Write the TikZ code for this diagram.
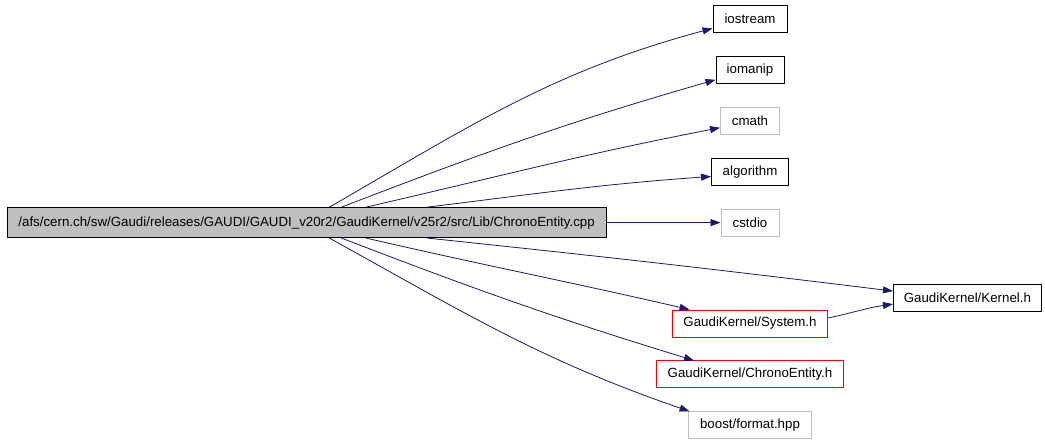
\documentclass[tikz,border=0pt]{standalone}
\usepackage{fontspec}
\setmainfont{Liberation Sans}
\usepackage{tikz}
\usetikzlibrary{arrows.meta, positioning, calc}
\definecolor{edgeblue}{RGB}{25,25,112}
\definecolor{lightgrey}{RGB}{191,191,191}

\begin{document}
\begin{tikzpicture}[
  x=1pt, y=-1pt,
  node distance=23pt,
  file/.style={rectangle, draw=black, line width=0.9pt, fill=white, inner sep=0pt,
               minimum height=27pt, font=\fontsize{13.3}{15}\selectfont},
  redfile/.style={file, draw=red},
  greyfile/.style={file, draw=lightgrey},
  srcfile/.style={file, fill=lightgrey, minimum height=30pt},
  arr/.style={-{Triangle[length=10pt, width=7pt]}, draw=edgeblue, line width=0.8pt}
]
\useasboundingbox (0,0) rectangle (1045,442);

% include column
\node[file, minimum width=74pt] (iostream) at (750,19) {iostream};
\node[file, minimum width=68pt, below=of iostream] (iomanip) {iomanip};
\node[greyfile, minimum width=59pt, below=of iomanip] (cmath) {cmath};
\node[file, minimum width=77pt, below=of cmath] (algorithm) {algorithm};
\node[greyfile, minimum width=58pt, below=of algorithm] (cstdio) {cstdio};
\node[redfile, minimum width=155pt, below=73pt of cstdio] (system) {GaudiKernel/System.h};
\node[redfile, minimum width=187pt, below=of system] (chrono) {GaudiKernel/ChronoEntity.h};
\node[greyfile, minimum width=123pt, below=of chrono] (boost) {boost/format.hpp};
\node[file, minimum width=148pt, above right=-2pt and 65pt of system] (kernel) {GaudiKernel/Kernel.h};

% source file
\node[srcfile, minimum width=599pt, left=114pt of cstdio] (main)
  {/afs/cern.ch/sw/Gaudi/releases/GAUDI/GAUDI\_v20r2/GaudiKernel/v25r2/src/Lib/ChronoEntity.cpp};

\draw[arr] ($(main.north west)!0.538!(main.north east)$) to[out=30, in=195] (iostream.194);
\draw[arr] ($(main.north west)!0.558!(main.north east)$) to[out=21, in=196] (iomanip.196);
\draw[arr] ($(main.north west)!0.599!(main.north east)$) to[out=13, in=191] (cmath.193);
\draw[arr] ($(main.north west)!0.701!(main.north east)$) to[out=7, in=184] (algorithm.187);
\draw[arr] (main) -- (cstdio);
\draw[arr] ($(main.south west)!0.701!(main.south east)$) to[out=-6, in=173] (kernel.175);
\draw[arr] ($(main.south west)!0.599!(main.south east)$) to[out=-13, in=167] (system.167);
\draw[arr] ($(main.south west)!0.558!(main.south east)$) to[out=-21, in=163] (chrono.166);
\draw[arr] ($(main.south west)!0.538!(main.south east)$) to[out=-29, in=161] (boost.167);
\draw[arr] (system.4) to[out=12, in=188] (kernel.185);
\end{tikzpicture}
\end{document}
